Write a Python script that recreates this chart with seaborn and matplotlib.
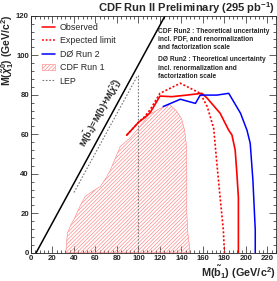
import numpy as np
import pandas as pd
import matplotlib
matplotlib.use("Agg")
import matplotlib.pyplot as plt
import seaborn as sns
from matplotlib.lines import Line2D
from matplotlib.patches import Patch
from matplotlib.ticker import MultipleLocator

sns.set_style("ticks")
plt.rcParams['font.family'] = ['Liberation Sans', 'DejaVu Sans']
plt.rcParams['hatch.linewidth'] = 0.45
plt.rcParams['mathtext.fontset'] = 'custom'
plt.rcParams['mathtext.rm'] = 'Liberation Sans:bold'
plt.rcParams['mathtext.it'] = 'Liberation Sans:bold:italic'
plt.rcParams['mathtext.bf'] = 'Liberation Sans:bold'

# --- data (GeV/c^2) ---
obs_x = [89, 95, 100, 106, 111, 120, 131, 145, 159, 164, 176, 184, 187, 190, 191.6, 193, 193]
obs_y = [59.5, 63, 66, 68.5, 71, 79.3, 79, 79.8, 80.7, 78.2, 70.6, 62, 59.6, 52, 40, 28, 0]

exp_x = [89, 95, 100, 106, 111, 120, 139, 157.5, 164, 170, 173, 176, 179, 180]
exp_y = [59.5, 63, 66, 69, 72.5, 80.7, 85.8, 80.7, 74, 63, 45, 28, 11.5, 0]

d0_x = [123, 139, 153, 157.5, 173, 184, 195, 201, 204, 206.5, 208.7, 208.7]
d0_y = [74, 77.7, 75.6, 79.8, 79.8, 80.7, 70.6, 62, 55.4, 36.8, 11.5, 0]

run1_x = [32.5, 33, 34, 37, 41, 46, 50.5, 57, 64.5, 70, 74, 83, 92, 100, 110, 120, 129, 135, 140, 143, 144.5, 145, 145, 146, 147.5, 148]
run1_y = [0, 5, 10, 14, 18, 24, 28.5, 31, 33.5, 38, 42, 53.7, 58, 63, 70, 73, 75, 72, 68, 62, 55, 40, 20, 10, 3, 0]

lep_x = [40, 99, 100, 100]
lep_y = [30.5, 89.5, 89.5, 0]

kin_x = [4.8, 124.8]
kin_y = [0, 120]

legend_labels = ["Observed", "Expected limit", "D\u00d8 Run 2", "CDF Run 1", "LEP"]

fig = plt.figure(figsize=(2.77, 2.81), dpi=100)
ax = fig.add_axes([31/277, 28.3/281, 245/277, 237/281])

ax.fill(run1_x, run1_y, facecolor='none', edgecolor='#ff8080', hatch='/////////', linewidth=0.4)

sns.lineplot(x=kin_x, y=kin_y, sort=False, estimator=None, color='black', linewidth=1.1, ax=ax)
sns.lineplot(x=lep_x, y=lep_y, sort=False, estimator=None, color='#777777', linewidth=0.8,
             linestyle=(0, (1.5, 1.5)), ax=ax)
sns.lineplot(x=exp_x, y=exp_y, sort=False, estimator=None, color='#ff0000', linewidth=1.2,
             linestyle=(0, (1.2, 1.2)), ax=ax)
sns.lineplot(x=obs_x, y=obs_y, sort=False, estimator=None, color='#ff0000', linewidth=1.2, ax=ax)
sns.lineplot(x=d0_x, y=d0_y, sort=False, estimator=None, color='#0000ff', linewidth=1.1, ax=ax)

ax.set_xlim(0, 228)
ax.set_ylim(0, 120)
ax.xaxis.set_major_locator(MultipleLocator(20))
ax.xaxis.set_minor_locator(MultipleLocator(4))
ax.yaxis.set_major_locator(MultipleLocator(20))
ax.yaxis.set_minor_locator(MultipleLocator(4))
ax.tick_params(which='both', direction='in', top=True, right=True, width=0.6, color='#444444')
ax.tick_params(which='major', length=5, labelsize=5.6, pad=1.5)
ax.tick_params(which='minor', length=2.5)
for lab in ax.get_xticklabels() + ax.get_yticklabels():
    lab.set_fontweight('bold')
for s in ax.spines.values():
    s.set_linewidth(0.6)

handles = [
    Line2D([], [], color='#ff0000', lw=1.1),
    Line2D([], [], color='#ff0000', lw=1.1, linestyle=(0, (1.2, 1.2))),
    Line2D([], [], color='#0000ff', lw=1.1),
    Patch(facecolor='none', edgecolor='#ff8080', hatch='/////////', linewidth=0.4),
    Line2D([], [], color='#777777', lw=0.8, linestyle=(0, (1.5, 1.5))),
]
ax.legend(handles, legend_labels, loc='upper left', bbox_to_anchor=(0.03, 0.985), frameon=False,
          fontsize=6.4, handlelength=1.5, handletextpad=0.5, labelspacing=0.5, borderaxespad=0)

fig.text(0.993, 0.972, "CDF Run II Preliminary (295 pb$^{\\mathbf{-1}}$)", ha='right', va='center',
         fontsize=8, fontweight='bold')
fig.text(0.997, 0.03, "M($\\tilde{\\mathrm{b}}_1$) (GeV/c$^2$)", ha='right', va='center',
         fontsize=7.8, fontweight='bold')
fig.text(0.028, 0.948, "M($\\tilde{\\chi}^0_1$) (GeV/c$^2$)", ha='center', va='top', rotation=90,
         fontsize=7.6, fontweight='bold')

ax.text(118.5, 108, "CDF Run2 : Theoretical uncertainty\nincl. PDF, and renormalization\nand factorization scale",
        fontsize=4.8, fontweight='bold', va='center', ha='left', linespacing=1.25)
ax.text(118.5, 93.5, "D\u00d8 Run2 : Theoretical uncertainty\nincl. renormalization and\nfactorization scale",
        fontsize=4.8, fontweight='bold', va='center', ha='left', linespacing=1.25)
ax.text(64.5, 71, "M($\\tilde{\\mathrm{b}}_1$)=M(b)+M($\\tilde{\\chi}^0_1$)", rotation=61.5,
        fontsize=6.5, fontweight='bold', ha='center', va='center', rotation_mode='anchor')

fig.savefig("out.png", dpi=100)
